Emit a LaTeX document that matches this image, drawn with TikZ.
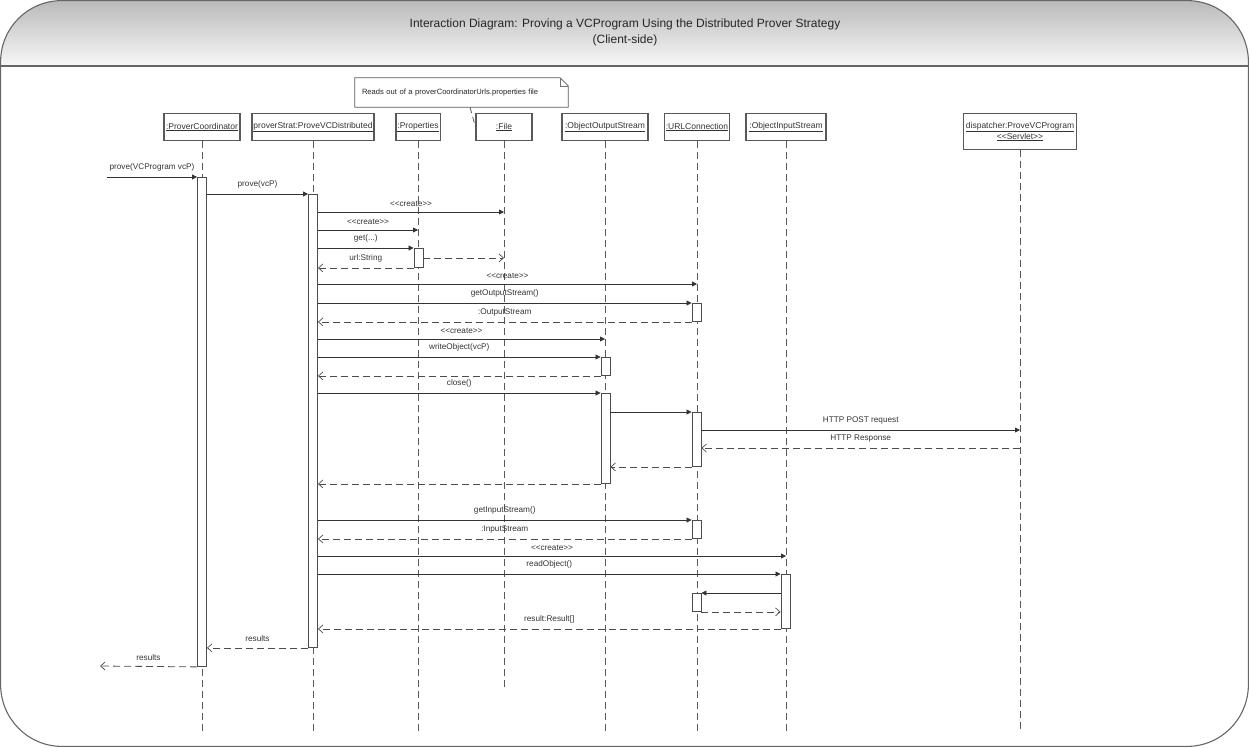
\documentclass[tikz,border=0pt]{standalone}
\usepackage{fontspec}
\setmainfont{Liberation Sans}
\usetikzlibrary{arrows.meta}
% stereotype brackets without the << >> guillemet ligature
\newcommand\stereo[1]{<{}<#1>{}>}
\begin{document}
\begin{tikzpicture}[x=1pt,y=-1pt,
  font=\fontsize{8.2}{9.5}\selectfont,
  frame/.style={draw=black!60, line width=1.1pt},
  title/.style={font=\fontsize{12}{14}\selectfont, text=black!85, inner sep=0pt},
  head/.style={draw=black!65, line width=1.1pt, fill=white, minimum height=27pt,
               inner sep=1.5pt, text=black!80, anchor=north, align=center,
               font=\fontsize{8.5}{9.5}\selectfont},
  life/.style={draw=black!65, line width=0.8pt, dash pattern=on 7pt off 4pt},
  bar/.style={draw=black!70, line width=0.9pt, fill=white, minimum width=9pt,
              inner sep=0pt, anchor=north},
  call/.style={draw=black!80, line width=0.8pt, -{Triangle[length=5pt,width=5pt]}},
  ret/.style={draw=black!70, line width=0.8pt, dash pattern=on 7pt off 4pt,
              -{Straight Barb[length=4.5pt,width=8pt,line width=0.7pt]}},
  lbl/.style={text=black!80, inner sep=1pt, above=4.5pt, midway},
  notebox/.style={text=black!85, inner xsep=7pt, inner ysep=0pt, text width=199pt,
                  align=left, minimum height=29pt, font=\fontsize{7.6}{9}\selectfont},
  notelink/.style={draw=black!65, line width=0.8pt, dash pattern=on 6pt off 4pt}]
\useasboundingbox (0,0) rectangle (1250,747);

% header band with gradient and the rounded outer frame
\shade[top color=black!27, bottom color=black!3]
  (0.6,66) -- (0.6,62) .. controls (0.6,27.8) and (27.8,0.6) .. (62,0.6)
  -- (1187,0.6) .. controls (1221.2,0.6) and (1248.4,27.8) .. (1248.4,62)
  -- (1248.4,66) -- cycle;
\draw[frame] (0.6,66) -- (1248.4,66);
\draw[frame] (62,0.6) -- (1187,0.6) .. controls (1221.2,0.6) and (1248.4,27.8) .. (1248.4,62)
  -- (1248.4,684.4) .. controls (1248.4,718.6) and (1221.2,746.4) .. (1187,746.4)
  -- (62,746.4) .. controls (27.8,746.4) and (0.6,718.6) .. (0.6,684.4)
  -- (0.6,62) .. controls (0.6,27.8) and (27.8,0.6) .. (62,0.6) -- cycle;

\node[title] (title) at (625,24) {Interaction Diagram: Proving a VCProgram Using the Distributed Prover Strategy};
\node[title] (subtitle) at (625,40) {(Client-side)};

% comment note with folded corner
\path (461.5,92.5) node[notebox] (note) {\phantom{Reads}};
\draw[draw=black!65, line width=0.8pt, fill=white]
  (note.north west) -- ([xshift=-8pt]note.north east) -- ([yshift=-8pt]note.north east)
  -- (note.south east) -- (note.south west) -- cycle;
\draw[draw=black!55, line width=0.6pt]
  ([xshift=-8pt]note.north east) -- ([xshift=-8pt,yshift=-8pt]note.north east)
  -- ([yshift=-8pt]note.north east);
\node[notebox] (notetext) at (note) {Reads out of a proverCoordinatorUrls.properties file};

% lifeline heads
\node[head, minimum width=76pt]  (pc)   at (202,113)  {\underline{:ProverCoordinator}};
\node[head, minimum width=120pt] (ps)   at (313,113)  {\underline{proverStrat:ProveVCDistributed}};
\node[head, minimum width=42pt]  (prop) at (418,113)  {\underline{:Properties}};
\node[head, minimum width=56pt]  (file) at (504,113)  {\underline{:File}};
\node[head, minimum width=86pt]  (oos)  at (605,113)  {\underline{:ObjectOutputStream}};
\node[head, minimum width=64pt]  (url)  at (697,113)  {\underline{:URLConnection}};
\node[head, minimum width=80pt]  (ois)  at (786,113)  {\underline{:ObjectInputStream}};
\node[head, minimum width=113pt, minimum height=36pt, inner sep=1pt,
      font=\fontsize{8.5}{9}\selectfont] (disp) at (1020,113)
      {\underline{dispatcher:ProveVCProgram}\\\underline{\stereo{Servlet}}};

\draw[notelink] ([xshift=8.5pt]note.south) -- (file.west);

% lifelines
\foreach \n in {pc,ps,prop,oos,url,ois,disp}
  \draw[life] (\n.south) -- (\n |- 0,731);
\draw[life] (file.south) -- (file |- 0,688);

% activation bars
\node[bar, minimum height=489pt] (pcA)   at (pc |- 0,177)        {};
\node[bar, minimum height=453pt] (psA)   at (ps |- 0,194)        {};
\node[bar, minimum height=19pt]  (propA) at (418.5,248)          {};
\node[bar, minimum height=18pt]  (urlA1) at (696.5,303)          {};
\node[bar, minimum height=18pt]  (oosA1) at (605.5,357)          {};
\node[bar, minimum height=90pt]  (oosA2) at (605.5,393)          {};
\node[bar, minimum height=54pt]  (urlA2) at (696.5,412)          {};
\node[bar, minimum height=18pt]  (urlA3) at (696.5,520)          {};
\node[bar, minimum height=54pt]  (oisA)  at (785.5,574)          {};
\node[bar, minimum height=18pt]  (urlA4) at (696.5,593)          {};

% free ends of the incoming and outgoing messages
\coordinate (entry) at (107,177);
\coordinate (exit)  at (100,666);

% messages
\draw[call] (entry) -- node[lbl]{prove(VCProgram vcP)} (pcA.north west);
\draw[call] (pcA.east |- psA.north) -- node[lbl]{prove(vcP)} (psA.north west);
\draw[call] (psA.east |- 0,212) -- node[lbl]{\stereo{create}} (file |- 0,212);
\draw[call] (psA.east |- 0,230) -- node[lbl]{\stereo{create}} (prop |- 0,230);
\draw[call] (psA.east |- propA.north) -- node[lbl]{get(...)} (propA.north west);
\draw[ret]  (propA.south west) -- node[lbl]{url:String} (psA.east |- propA.south);
\draw[ret]  (propA.east) -- (file |- propA.east);
\draw[call] (psA.east |- 0,284) -- node[lbl]{\stereo{create}} (url |- 0,284);
\draw[call] (psA.east |- urlA1.north) -- node[lbl]{getOutputStream()} (urlA1.north west);
\draw[ret]  (urlA1.south west) -- node[lbl]{:OutputStream} (psA.east |- urlA1.south);
\draw[call] (psA.east |- 0,339) -- node[lbl]{\stereo{create}} (oos |- 0,339);
\draw[call] (psA.east |- oosA1.north) -- node[lbl]{writeObject(vcP)} (oosA1.north west);
\draw[ret]  (oosA1.south west) -- (psA.east |- oosA1.south);
\draw[call] (psA.east |- oosA2.north) -- node[lbl]{close()} (oosA2.north west);
\draw[call] (oosA2.east |- urlA2.north) -- (urlA2.north west);
\draw[call] (urlA2.east |- 0,430) -- node[lbl]{HTTP POST request} (disp |- 0,430);
\draw[ret]  (disp |- 0,448) -- node[lbl]{HTTP Response} (urlA2.east |- 0,448);
\draw[ret]  (urlA2.south west) -- (oosA2.east |- urlA2.south);
\draw[ret]  (oosA2.south west) -- (psA.east |- oosA2.south);
\draw[call] (psA.east |- urlA3.north) -- node[lbl]{getInputStream()} (urlA3.north west);
\draw[ret]  (urlA3.south west) -- node[lbl]{:InputStream} (psA.east |- urlA3.south);
\draw[call] (psA.east |- 0,556) -- node[lbl]{\stereo{create}} (ois |- 0,556);
\draw[call] (psA.east |- oisA.north) -- node[lbl]{readObject()} (oisA.north west);
\draw[call] (oisA.west |- urlA4.north) -- (urlA4.north east);
\draw[ret]  (urlA4.south east) -- (oisA.west |- urlA4.south);
\draw[ret]  (oisA.south west) -- node[lbl]{result:Result[]} (psA.east |- oisA.south);
\draw[ret]  (psA.south west) -- node[lbl]{results} (pcA.east |- psA.south);
\draw[ret]  (pcA.south west) -- node[lbl]{results} (exit);
\end{tikzpicture}
\end{document}
